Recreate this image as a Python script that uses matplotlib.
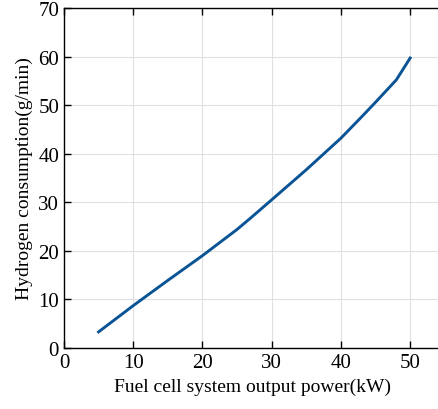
import matplotlib
matplotlib.use('Agg')
import matplotlib.pyplot as plt

# fuel cell output power (kW) vs hydrogen consumption (g/min)
power = [5, 10, 15, 20, 25, 27, 30, 35, 40, 43, 45, 48, 50]
h2_rate = [3.3, 8.7, 13.9, 19.0, 24.4, 26.8, 30.5, 36.7, 43.2, 47.6, 50.6, 55.2, 59.7]

plt.rcParams['font.family'] = ['Liberation Serif', 'DejaVu Serif']
plt.rcParams['font.size'] = 14

fig = plt.figure(figsize=(4.38, 4.10), dpi=100)
ax = fig.add_axes([0.146, 0.149, 0.86, 0.829])

ax.plot(power, h2_rate, color='#0a5495', linewidth=2.1)

ax.set_xlim(0, 54.4)
ax.set_ylim(0, 70)
ax.set_xticks([0, 10, 20, 30, 40, 50])
ax.set_yticks(range(0, 80, 10))
ax.grid(True, color='#e0e0e0', linewidth=0.8)
ax.tick_params(direction='in', top=True, right=False, length=5, width=1, labelsize=15)
for s in ax.spines.values():
    s.set_linewidth(1)

ax.set_xlabel('Fuel cell system output power(kW)', fontsize=14)
ax.set_ylabel('Hydrogen consumption(g/min)', fontsize=14)

fig.savefig('out.png', dpi=100)
